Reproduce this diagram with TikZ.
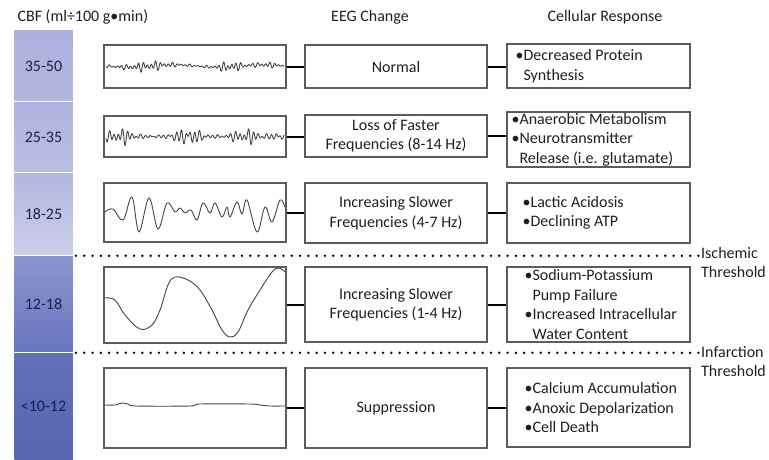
\documentclass[tikz,border=0pt]{standalone}
\usepackage{fontspec}
\setmainfont{Carlito}
\usetikzlibrary{positioning}

\definecolor{inkgray}{HTML}{1F1F1F}
\definecolor{navy}{HTML}{18204D}
\definecolor{boxgray}{HTML}{5C5C5C}
\definecolor{wavegray}{HTML}{444444}
\definecolor{barA1}{HTML}{AEB1DD}
\definecolor{barA2}{HTML}{B3B6DF}
\definecolor{barB1}{HTML}{B0B3DE}
\definecolor{barB2}{HTML}{BBBDE2}
\definecolor{barC1}{HTML}{B3B6DF}
\definecolor{barC2}{HTML}{CDCEE9}
\definecolor{barD1}{HTML}{8D96CE}
\definecolor{barD2}{HTML}{6775BB}
\definecolor{barE1}{HTML}{6170B8}
\definecolor{barE2}{HTML}{5666B1}

\begin{document}
\begin{tikzpicture}[x=1pt,y=-1pt,
  every node/.style={font=\fontsize{16}{19.5}\selectfont, text=inkgray},
  cbf/.style={minimum width=58.5pt, inner sep=0pt, text=navy},
  wavebox/.style={draw=boxgray, line width=1.2pt, minimum width=182pt, inner sep=0pt},
  eegbox/.style={draw=boxgray, line width=1.2pt, minimum width=182pt, inner sep=0pt, align=center},
  cellbox/.style={draw=boxgray, line width=1.2pt, minimum width=183pt, inner sep=0pt},
  celltext/.style={align=left, inner sep=0pt},
  wave/.style={draw=wavegray, line width=0.9pt, line join=round},
  link/.style={line width=2pt},
  threshold/.style={line width=2.7pt, line cap=round, dash pattern=on 0pt off 8.3pt},
  sep/.style={white, line width=1pt}]
\useasboundingbox (0,0) rectangle (769,459);

% headers
\node[anchor=west] (hcbf) at (14,17) {CBF (ml÷100 g•min)};
\node (heeg)  at (370,17) {EEG Change};
\node (hcell) at (605,17) {Cellular Response};

% CBF bar
\node[cbf, top color=barA1, bottom color=barA2, minimum height=72pt]  (cbfA) at (43.5,66)    {35-50};
\node[cbf, top color=barB1, bottom color=barB2, minimum height=71pt]  (cbfB) at (43.5,137.5) {25-35};
\node[cbf, top color=barC1, bottom color=barC2, minimum height=83pt]  (cbfC) at (43.5,214.5) {18-25};
\node[cbf, top color=barD1, bottom color=barD2, minimum height=97pt]  (cbfD) at (43.5,304.5) {12-18};
\node[cbf, top color=barE1, bottom color=barE2, minimum height=106pt] (cbfE) at (43.5,406)   {<10-12};
\draw[sep] (cbfB.north west) -- (cbfB.north east);
\draw[sep] (cbfC.north west) -- (cbfC.north east);
\draw[sep] (cbfD.north west) -- (cbfD.north east);
\draw[sep] (cbfE.north west) -- (cbfE.north east);

% EEG traces
\node[wavebox, minimum height=43pt] (waveA) at (195,66.5)  {};
\node[wavebox, minimum height=41pt] (waveB) at (195,136.5) {};
\node[wavebox, minimum height=59pt] (waveC) at (195,212.5) {};
\node[wavebox, minimum height=76pt] (waveD) at (195,305)   {};
\node[wavebox, minimum height=80pt] (waveE) at (195,408)   {};

\draw[wave] plot[domain=0:178, samples=450] ({106+\x},
  {66 + 1.2*sin(4*\x) + (1.2 + 4*exp(-pow((\x-42)/22,2)) + 4.5*exp(-pow((\x-124)/13,2)) + 2*exp(-pow((\x-160)/12,2)))
   *(0.55*sin(85*\x) + 0.35*sin(63*\x+40) + 0.25*sin(41*\x+100))});
\draw[wave] plot[domain=0:178, samples=450] ({106+\x},
  {136.5 + (1.3 + 7.5*exp(-pow((\x-14)/15,2)) + 7.5*exp(-pow((\x-82)/16,2)) + 7*exp(-pow((\x-140)/15,2)) + 3*exp(-pow((\x-172)/8,2)))
   *(0.55*sin(80*\x) + 0.35*sin(60*\x+30) + 0.25*sin(37*\x+80))});
\draw[wave] plot[smooth, tension=0.6] coordinates {(105,212) (113,209) (123,220) (132,197) (139,232)
  (149,198) (158,229) (167,203) (175,212) (180,208) (185,213) (191,210) (197,220) (203,203) (210,213)
  (215,203) (222,217) (227,207) (230,217) (237,202) (242,214) (247,200) (257,232) (265,207) (272,222)
  (280,200) (285,207)};
\draw[wave] plot[smooth, tension=0.6] coordinates {(105,298) (115,300) (125,315) (140,329) (152,325)
  (160,310) (168,285) (175,277) (188,280) (200,290) (212,310) (222,330) (230,337) (238,332) (248,310)
  (260,290) (272,272) (279,268) (285,272)};
\draw[wave] plot[smooth, tension=0.5] coordinates {(105,405) (115,405) (122,403) (128,404) (136,406)
  (190,406) (200,404) (250,404) (260,405) (270,406) (285,406)};

% EEG change
\node[eegbox, minimum height=43pt] (eegA) at (396,66.5) {Normal};
\node[eegbox, minimum height=42pt] (eegB) at (396,136)  {Loss of Faster\\Frequencies (8-14 Hz)};
\node[eegbox, minimum height=60pt] (eegC) at (396,213)  {Increasing Slower\\Frequencies (4-7 Hz)};
\node[eegbox, minimum height=75pt] (eegD) at (396,304.5) {Increasing Slower\\Frequencies (1-4 Hz)};
\node[eegbox, minimum height=80pt] (eegE) at (396,408)  {Suppression};

% cellular response
\node[cellbox, minimum height=44pt] (cellA) at (598.5,66)    {};
\node[cellbox, minimum height=55pt] (cellB) at (598.5,139.5) {};
\node[cellbox, minimum height=60pt] (cellC) at (598.5,213)   {};
\node[cellbox, minimum height=75pt] (cellD) at (598.5,304.5) {};
\node[cellbox, minimum height=79pt] (cellE) at (598.5,407.5) {};
\node[celltext, right=9pt of cellA.west]  (respA) {•Decreased Protein\\\phantom{•}Synthesis};
\node[celltext, right=5pt of cellB.west]  (respB) {•Anaerobic Metabolism\\•Neurotransmitter\\\phantom{•}Release (i.e. glutamate)};
\node[celltext, right=16pt of cellC.west] (respC) {•Lactic Acidosis\\•Declining ATP};
\node[celltext, right=18pt of cellD.west] (respD) {•Sodium-Potassium\\\phantom{•}Pump Failure\\•Increased Intracellular\\\phantom{•}Water Content};
\node[celltext, right=18pt of cellE.west] (respE) {•Calcium Accumulation\\•Anoxic Depolarization\\•Cell Death};

% connectors
\draw[link] (waveA.east) -- (waveA.east -| eegA.west);
\draw[link] (waveB.east) -- (waveB.east -| eegB.west);
\draw[link] (waveC.east) -- (waveC.east -| eegC.west);
\draw[link] (waveD.east) -- (waveD.east -| eegD.west);
\draw[link] (waveE.east) -- (waveE.east -| eegE.west);
\draw[link] (eegA.east) -- (eegA.east -| cellA.west);
\draw[link] (eegB.east) -- (eegB.east -| cellB.west);
\draw[link] (eegC.east) -- (eegC.east -| cellC.west);
\draw[link] (eegD.east) -- (eegD.east -| cellD.west);
\draw[link] (eegE.east) -- (eegE.east -| cellE.west);

% thresholds
\node[celltext, anchor=west] (isch)    at (701,262.5) {Ischemic\\Threshold};
\node[celltext, anchor=west] (infarct) at (701,361.5) {Infarction\\Threshold};
\draw[threshold] ([xshift=3pt]cbfD.north east) -- (cbfD.north east -| isch.west);
\draw[threshold] ([xshift=3pt]cbfE.north east) -- (cbfE.north east -| infarct.west);
\end{tikzpicture}
\end{document}
